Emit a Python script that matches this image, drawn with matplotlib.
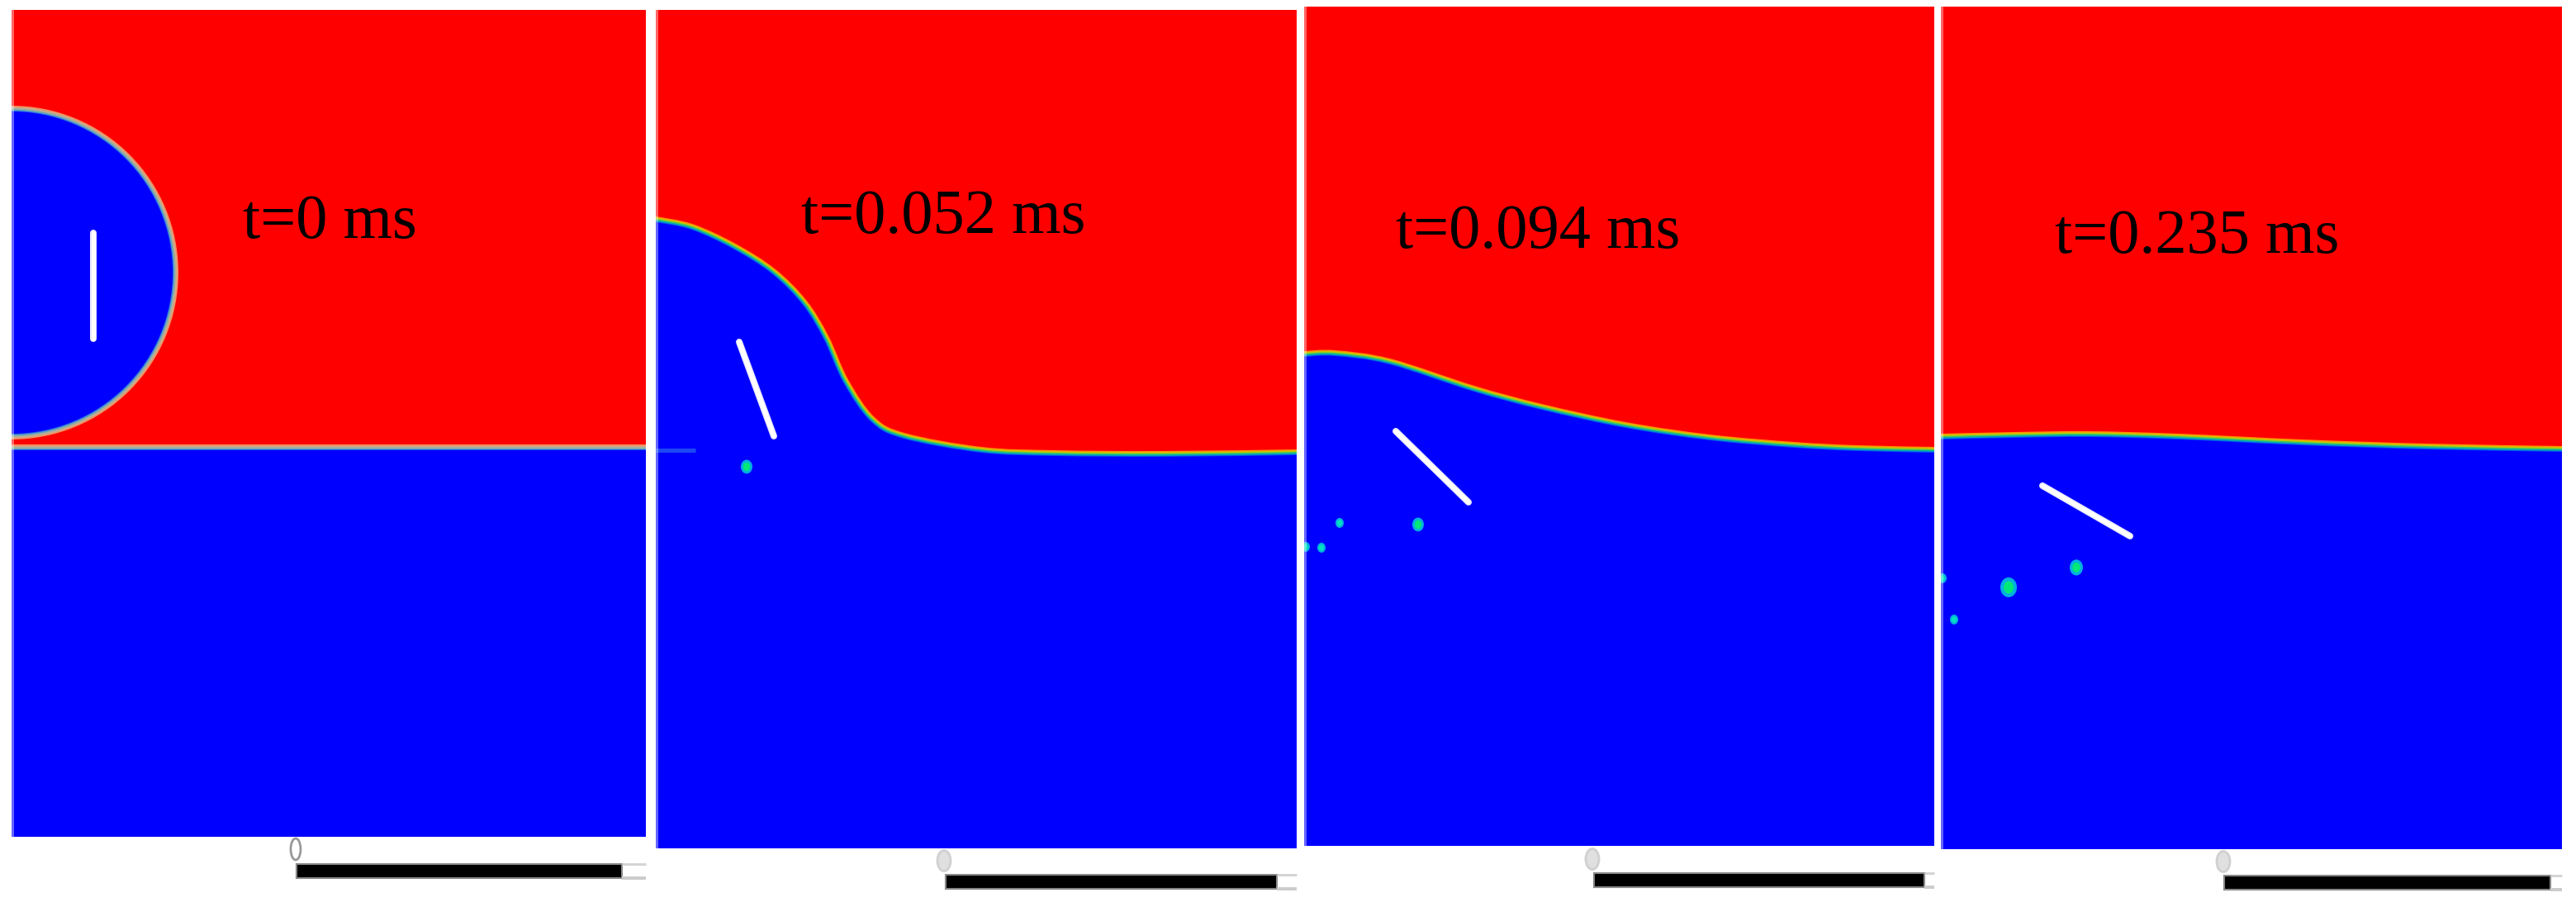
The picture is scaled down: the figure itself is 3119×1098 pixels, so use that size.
import numpy as np
import matplotlib
matplotlib.use("Agg")
import matplotlib.pyplot as plt
from matplotlib.path import Path
from matplotlib.patches import PathPatch, Circle, Ellipse, Rectangle

W, H = 3119, 1098

# Panel frames, in image pixels
panel_left = [14, 794, 1579, 2350]
panel_right = [782, 1570, 2342, 3102]
panel_top = [12, 12, 8, 8]
panel_bottom = [1013, 1027, 1024, 1028]

labels = ["t=0 ms", "t=0.052 ms", "t=0.094 ms", "t=0.235 ms"]
label_x = [294, 970, 1690, 2488]
label_y = [288, 282, 300, 306]

# Droplet at t=0
drop0_x, drop0_y, drop0_r = 14, 330, 198
pool0_y = 542

# Interface heights
iface2_x = [794, 837, 887, 934, 971, 997, 1021, 1054, 1094, 1188, 1277, 1408, 1570]
iface2_y = [266, 275, 298, 328, 365, 407, 460, 507, 528, 545, 549, 550, 548]
iface3_x = [1579, 1616, 1682, 1784, 1866, 1968, 2070, 2172, 2249, 2342]
iface3_y = [429, 428, 438, 471, 493, 515, 530, 539, 543, 545]
iface4_x = [2350, 2440, 2529, 2638, 2788, 2937, 3102]
iface4_y = [529, 527, 526, 529, 536, 541, 544]

# White needle ends per panel
needle_x = [[113, 113], [895, 937], [1690, 1778], [2473, 2579]]
needle_y = [[282, 410], [414, 528], [522, 608], [588, 649]]

# Small secondary droplets per panel
drops_x = [[], [904], [1717, 1622, 1600, 1581], [2514, 2432, 2366, 2352]]
drops_y = [[], [565], [635, 633, 663, 662], [687, 711, 750, 700]]
drops_r = [[], [7], [7, 5, 5, 5], [8, 10, 5, 5]]

# Scale bars under the panels
bar_left = [359, 1145, 1930, 2693]
bar_right = [753, 1546, 2330, 3088]
bar_top = [1046, 1059, 1057, 1060]
bar_end = [782, 1570, 2342, 3102]
zero_x = [358, 1143, 1928, 2692]
zero_y = [1028, 1042, 1040, 1043]

RED = "#ff0000"
BLUE = "#0000ff"
rim_colors = ["#ff9000", "#c8c800", "#40c860", "#00a0c0", "#0050f0"]
rim_colors0 = ["#f09060", "#d0a888", "#a0b0a0", "#60a0c0", "#2060e8"]
rim_widths = [14, 11, 8, 5, 2]
RIM_INSET = 3


def smooth_path(xs, ys, x_end, y_end):
    # catmull-rom through the read points, then closed around the liquid side
    pts = np.column_stack([xs, ys]).astype(float)
    verts = [pts[0]]
    codes = [Path.MOVETO]
    for i in range(len(pts) - 1):
        p0 = pts[max(i - 1, 0)]
        p1 = pts[i]
        p2 = pts[i + 1]
        p3 = pts[min(i + 2, len(pts) - 1)]
        verts += [p1 + (p2 - p0) / 6, p2 - (p3 - p1) / 6, p2]
        codes += [Path.CURVE4] * 3
    verts += [(x_end, ys[-1]), (x_end, y_end), (xs[0], y_end), (xs[0], ys[0]), (xs[0], ys[0])]
    codes += [Path.LINETO] * 4 + [Path.CLOSEPOLY]
    return Path(verts, codes)


def add_rimmed(ax, make_patch, colors):
    # rainbow rim of the phase field: strokes from wide to narrow, blue fill on top
    for c, w in zip(colors, rim_widths):
        ax.add_patch(make_patch(fc="none", ec=c, lw=w * 0.72))
    ax.add_patch(make_patch(fc=BLUE, ec="none", lw=0))


fig = plt.figure(figsize=(W / 100, H / 100), dpi=100, facecolor="white")

curves = [None, (iface2_x, iface2_y), (iface3_x, iface3_y), (iface4_x, iface4_y)]

for i in range(4):
    l, r, t, b = panel_left[i], panel_right[i], panel_top[i], panel_bottom[i]
    ax = fig.add_axes([l / W, 1 - b / H, (r - l) / W, (b - t) / H])
    ax.set_xlim(l, r)
    ax.set_ylim(b, t)
    ax.axis("off")
    ax.add_patch(Rectangle((l, t), r - l, b - t, fc=RED, ec="none"))

    if i == 0:
        add_rimmed(ax, lambda **kw: Circle((drop0_x, drop0_y), drop0_r - RIM_INSET, **kw), rim_colors0)
        add_rimmed(ax, lambda **kw: Rectangle((l - 10, pool0_y + RIM_INSET), r - l + 20, b - pool0_y + 10, **kw), rim_colors0)
    else:
        xs, ys = curves[i]
        ys = np.array(ys) + RIM_INSET
        add_rimmed(ax, lambda **kw: PathPatch(smooth_path(xs, ys, r + 10, b + 10), **kw), rim_colors)

    if i == 1:
        # faint streak left of the first droplet
        ax.plot([794, 842], [545, 545], color="#1c48f4", lw=5 * 0.72, solid_capstyle="butt")

    ax.plot(needle_x[i], needle_y[i], color="#e8e8ff", lw=8 * 0.72, solid_capstyle="round")
    ax.plot(needle_x[i], needle_y[i], color="white", lw=5 * 0.72, solid_capstyle="round")

    for x, y, rad in zip(drops_x[i], drops_y[i], drops_r[i]):
        ax.add_patch(Ellipse((x, y), rad * 2, rad * 2.4, fc="#00b0e0", ec="none"))
        ax.add_patch(Ellipse((x, y), rad * 1.2, rad * 1.5, fc="#00e878" if rad > 5 else "#00e0c0", ec="none"))

    # soft pale seam down the left edge of each frame
    ax.plot([l + 1, l + 1], [t, b], color="white", alpha=0.4, lw=3 * 0.72)

# Overlay in image pixels for the scale bars and labels
over = fig.add_axes([0, 0, 1, 1], facecolor="none")
over.set_xlim(0, W)
over.set_ylim(H, 0)
over.axis("off")

for i in range(4):
    top = bar_top[i]
    over.plot([bar_right[i], bar_end[i]], [top, top], color="#d4d4d4", lw=3 * 0.72, solid_capstyle="butt")
    over.plot([bar_right[i], bar_end[i]], [top + 17, top + 17], color="#cccccc", lw=4 * 0.72, solid_capstyle="butt")
    over.add_patch(Rectangle((bar_left[i], top), bar_right[i] - bar_left[i], 17, fc="black", ec="#888888", lw=1.5))
    if i == 0:
        over.add_patch(Ellipse((zero_x[i], zero_y[i]), 12, 26, fc="white", ec="#999999", lw=2))
    else:
        over.add_patch(Ellipse((zero_x[i], zero_y[i]), 16, 25, fc="#e0e0e0", ec="#d0d0d0", lw=2))
    over.text(label_x[i], label_y[i], labels[i], family="Liberation Serif", fontsize=55,
              color="black", ha="left", va="baseline")

plt.savefig("out.png", dpi=100)
